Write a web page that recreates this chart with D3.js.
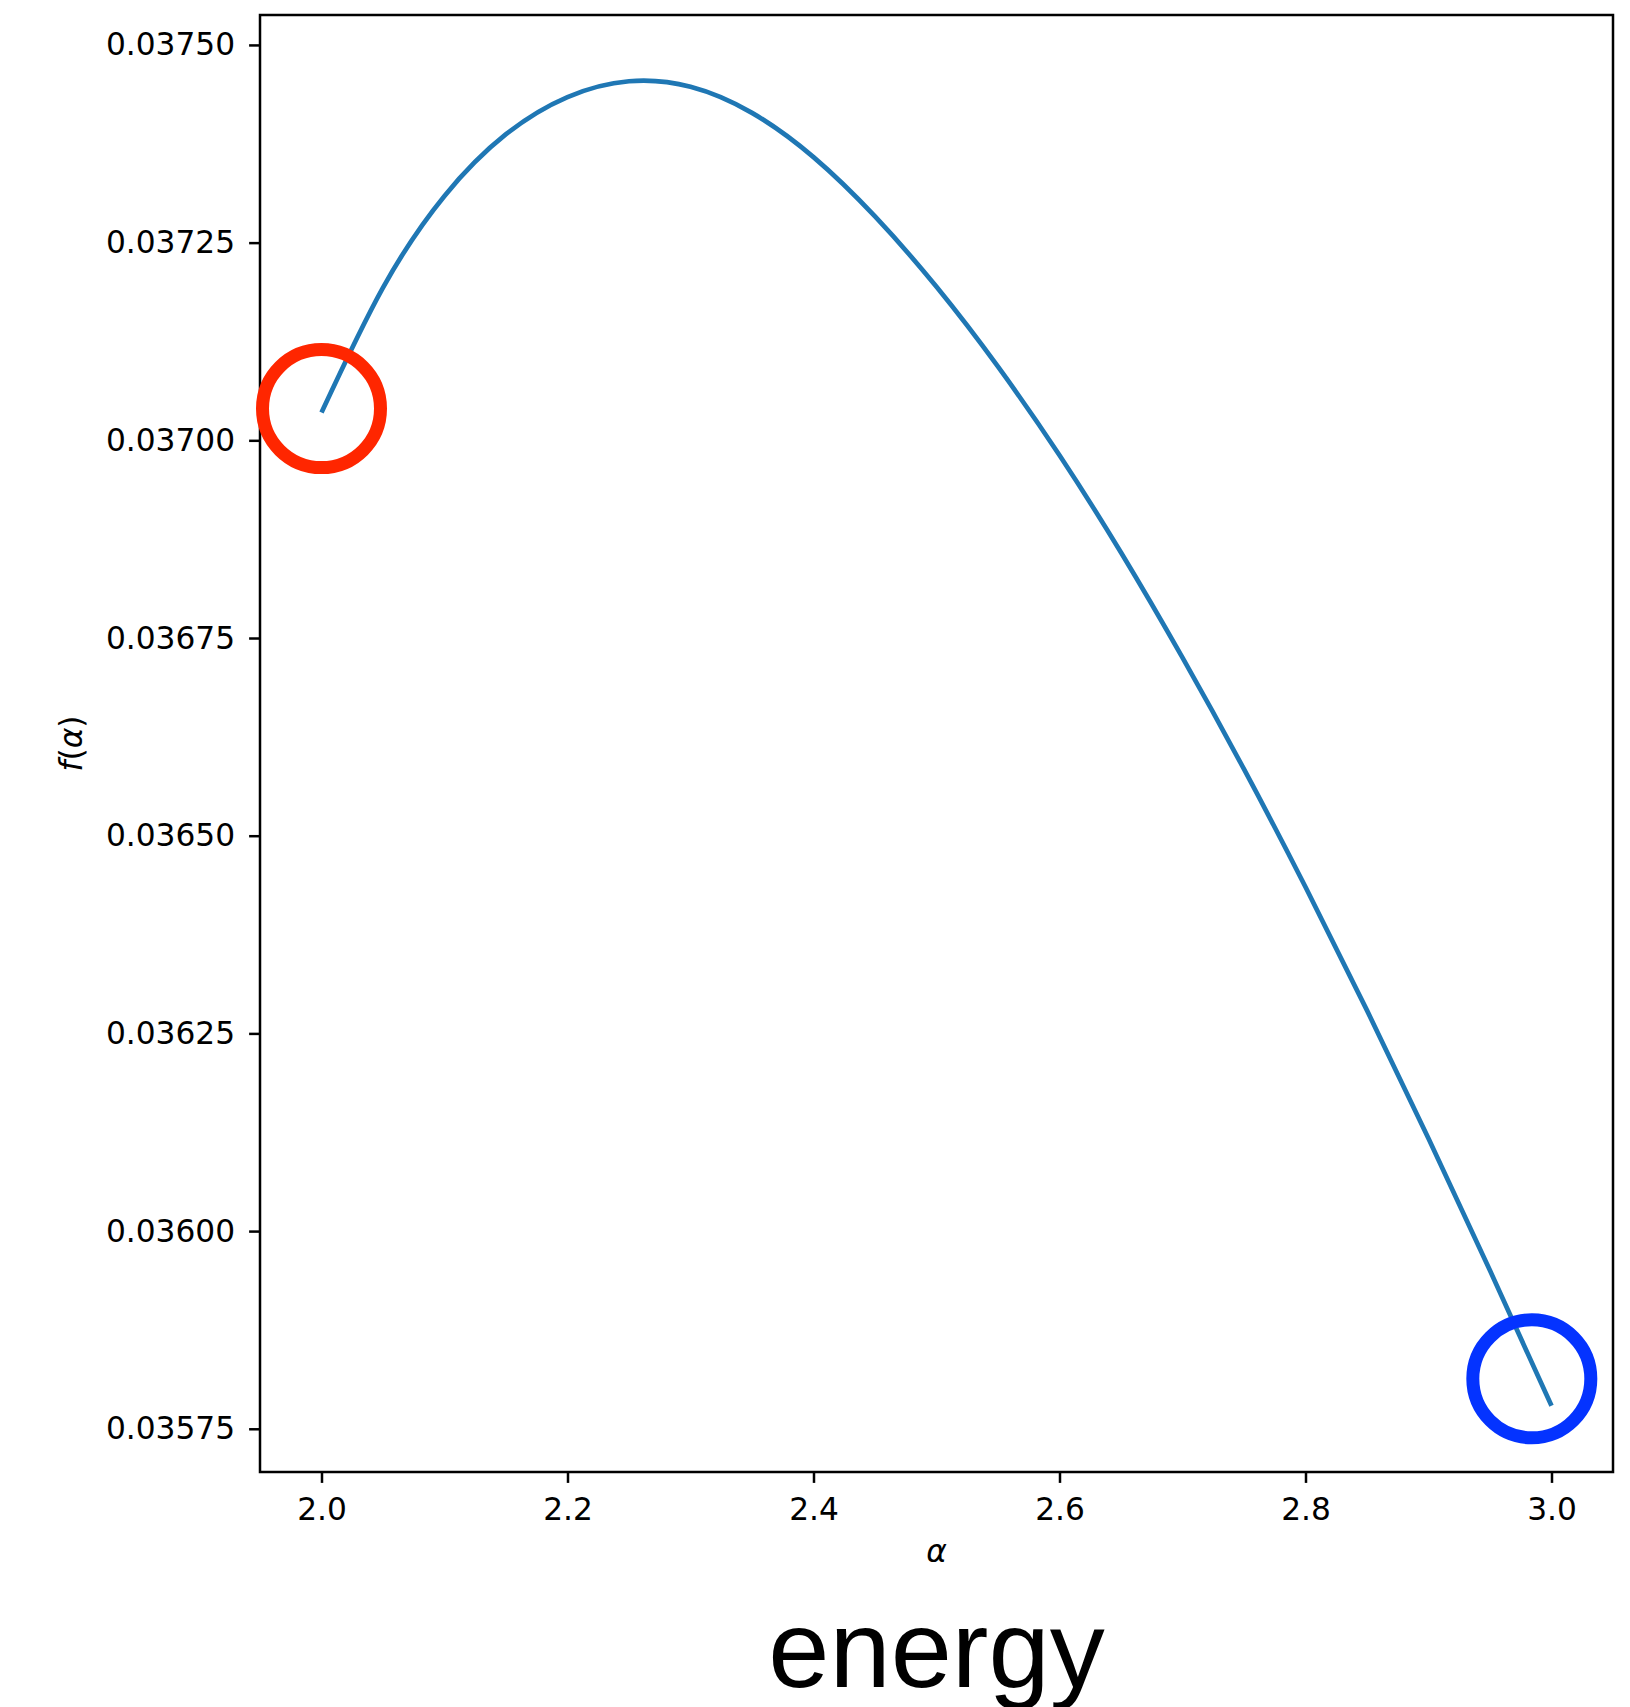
<!DOCTYPE html>
<html>
<head>
<meta charset="utf-8">
<script src="https://cdn.jsdelivr.net/npm/d3@7"></script>
<style>
  body { margin: 0; background: #ffffff; }
  .tick text { font-family: "DejaVu Sans", sans-serif; font-size: 31.25px; fill: #000; }
  .tick line { stroke: #000; stroke-width: 2.5px; }
</style>
</head>
<body>
<svg></svg>
<script>
// values, every 0.05 in alpha
var alphaValues = [2.00, 2.05, 2.10, 2.15, 2.20, 2.25, 2.30, 2.35, 2.40, 2.45, 2.50,
                   2.55, 2.60, 2.65, 2.70, 2.75, 2.80, 2.85, 2.90, 2.95, 3.00];
var fValues = [0.0370351, 0.0371931, 0.0373091, 0.0373871, 0.0374341, 0.0374541, 0.0374471,
               0.0374141, 0.0373581, 0.0372831, 0.0371941, 0.0370931, 0.0369811, 0.0368581,
               0.0367251, 0.0365841, 0.0364351, 0.0362791, 0.0361171, 0.0359501, 0.0357791];

// circled points
var markAlpha = [2.000, 2.984];
var markF = [0.0370401, 0.0358132];
var markColor = ["#ff2600", "#0433ff"];

var xTicks = [2.0, 2.2, 2.4, 2.6, 2.8, 3.0];
var yTicks = [0.03575, 0.03600, 0.03625, 0.03650, 0.03675, 0.03700, 0.03725, 0.03750];

var svg = d3.select("svg")
            .attr("width", 1630)
            .attr("height", 1707);

var margin = {top: 15, right: 17, bottom: 235, left: 260},
    width = svg.attr("width") - margin.left - margin.right,
    height = svg.attr("height") - margin.top - margin.bottom,
    g = svg.append("g").attr("transform", "translate(" + margin.left + "," + margin.top + ")");

var data = alphaValues.map(function(a, i) { return {alpha: a, f: fValues[i]}; });

// matplotlib style 5% margins
var xExt = d3.extent(alphaValues), yExt = d3.extent(fValues);
var xPad = (xExt[1] - xExt[0]) * 0.05, yPad = (yExt[1] - yExt[0]) * 0.05;

var x = d3.scaleLinear().domain([xExt[0] - xPad, xExt[1] + xPad]).range([0, width]),
    y = d3.scaleLinear().domain([yExt[0] - yPad, yExt[1] + yPad]).range([height, 0]);

var line = d3.line()
    .curve(d3.curveNatural)
    .x(function(d) { return x(d.alpha); })
    .y(function(d) { return y(d.f); });

//x axis
g.append("g")
    .attr("class", "axis-x")
    .attr("transform", "translate(0," + height + ")")
    .call(d3.axisBottom(x).tickValues(xTicks).tickFormat(d3.format(".1f"))
          .tickSize(10.9).tickSizeOuter(0).tickPadding(15))
    .call(function(s) { s.select(".domain").remove(); });

//y axis
g.append("g")
    .attr("class", "axis-y")
    .call(d3.axisLeft(y).tickValues(yTicks).tickFormat(d3.format(".5f"))
          .tickSize(10.9).tickSizeOuter(0).tickPadding(14))
    .call(function(s) { s.select(".domain").remove(); });

//curve
g.append("path")
    .datum(data)
    .attr("fill", "none")
    .attr("stroke", "#1f77b4")
    .attr("stroke-width", 4.7)
    .attr("d", line);

//frame
g.append("rect")
    .attr("width", width)
    .attr("height", height)
    .attr("fill", "none")
    .attr("stroke", "#000")
    .attr("stroke-width", 2.5);

//red and blue circles
g.selectAll(".mark")
    .data(markAlpha)
    .enter()
    .append("circle")
    .attr("class", "mark")
    .attr("cx", function(d) { return x(d); })
    .attr("cy", function(d, i) { return y(markF[i]); })
    .attr("r", 59)
    .attr("fill", "none")
    .attr("stroke", function(d, i) { return markColor[i]; })
    .attr("stroke-width", 13);

//axis labels
g.append("text")
    .attr("x", width / 2)
    .attr("y", height + 90)
    .attr("text-anchor", "middle")
    .style("font-family", "DejaVu Sans, sans-serif")
    .style("font-style", "italic")
    .style("font-size", "31.25px")
    .text("α");

svg.append("text")
    .attr("transform", "translate(82," + (margin.top + height / 2) + ") rotate(-90)")
    .attr("text-anchor", "middle")
    .style("font-family", "DejaVu Sans, sans-serif")
    .style("font-size", "31.25px")
    .html("<tspan font-style='italic'>f</tspan>(<tspan font-style='italic'>α</tspan>)");

//caption
svg.append("text")
    .attr("x", margin.left + width / 2)
    .attr("y", 1686.7)
    .attr("text-anchor", "middle")
    .style("font-family", "Liberation Sans, Arial, sans-serif")
    .style("font-size", "110px")
    .text("energy");
</script>
</body>
</html>
